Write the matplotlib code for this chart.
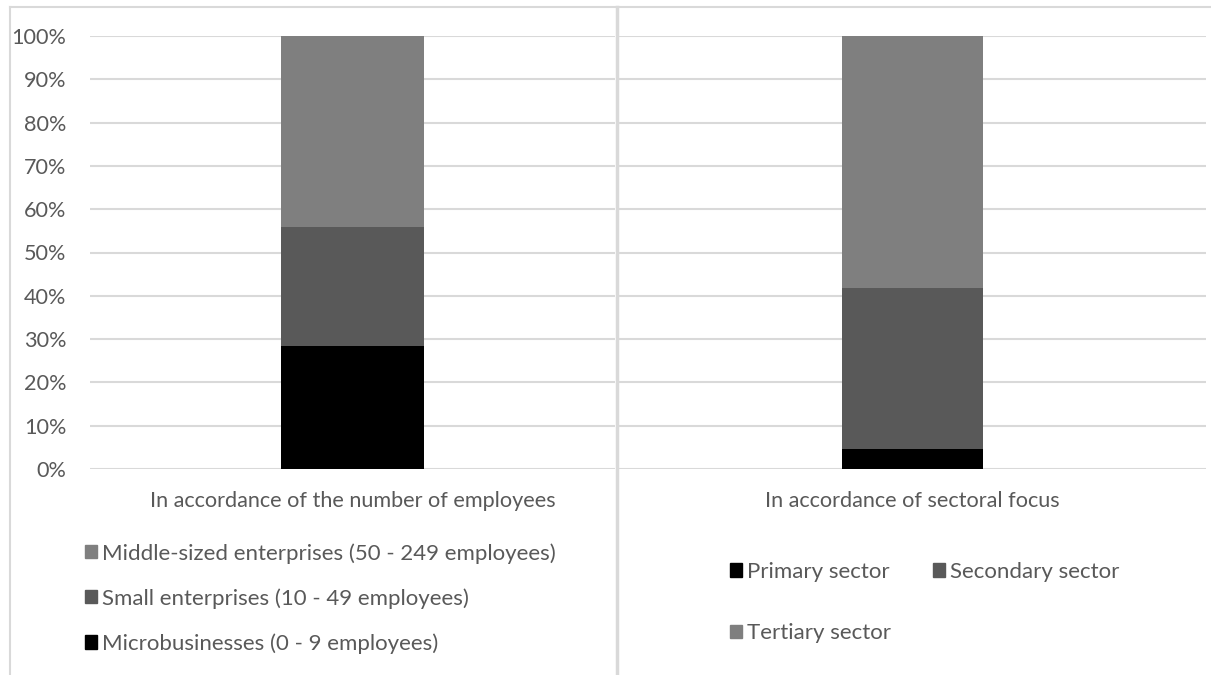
import matplotlib
matplotlib.use("Agg")
import matplotlib.pyplot as plt
from matplotlib.lines import Line2D
from matplotlib.patches import Patch

plt.rcParams['font.family'] = ['Lato', 'DejaVu Sans']

# data (shares in %)
size_cat = ['In accordance of the number of employees']
size_labels = ['Microbusinesses (0 - 9 employees)',
               'Small enterprises (10 - 49 employees)',
               'Middle-sized enterprises (50 - 249 employees)']
size_vals = [28.5, 27.5, 44.0]

sector_cat = ['In accordance of sectoral focus']
sector_labels = ['Primary sector', 'Secondary sector', 'Tertiary sector']
sector_vals = [4.7, 37.2, 58.1]

colors = ['#000000', '#595959', '#7f7f7f']
txt = '#595959'
grid = '#d9d9d9'
fs = 15.6
fs_leg = 16

W, H = 1211, 675
fig = plt.figure(figsize=(W/100, H/100), dpi=100)


def box(x0, x1, y_top, y_bot):
    return [x0/W, 1 - y_bot/H, (x1 - x0)/W, (y_bot - y_top)/H]


ax1 = fig.add_axes(box(90, 615, 36, 469))
ax2 = fig.add_axes(box(619, 1206, 36, 469))

def stack(ax, cat, vals, width):
    bottom = 0
    bars = []
    for v, c in zip(vals, colors):
        b = ax.bar(cat, [v], bottom=bottom, color=c, width=width, zorder=3)
        bars.append(b)
        bottom += v
    ax.set_xlim(-0.5, 0.5)
    ax.set_ylim(0, 100)
    ax.set_yticks(range(0, 101, 10))
    ax.yaxis.grid(True, color=grid, lw=1.5, zorder=0)
    for s in ax.spines.values():
        s.set_visible(False)
    ax.tick_params(length=0, labelsize=fs, colors=txt)
    ax.tick_params(axis='x', pad=16)
    return bars

b1 = stack(ax1, size_cat, size_vals, 0.272)
b2 = stack(ax2, sector_cat, sector_vals, 0.24)

ax1.set_yticklabels([f'{t}%' for t in range(0, 101, 10)])
ax1.tick_params(axis='y', pad=17)
ax2.set_yticklabels([])

# legends
leg_kw = dict(frameon=False, fontsize=fs_leg, labelcolor=txt, loc='upper left',
              handlelength=0.55, handleheight=0.55, handletextpad=0.2,
              borderaxespad=0, borderpad=0)

h1 = [Patch(color=colors[i]) for i in (2, 1, 0)]
l1 = [size_labels[i] for i in (2, 1, 0)]
fig.legend(h1, l1, bbox_to_anchor=(85/W, 1 - 543/H), labelspacing=1.1,
           **leg_kw)

h2 = [Patch(color=colors[i]) for i in (0, 2, 1)]
l2 = [sector_labels[i] for i in (0, 2, 1)]
fig.legend(h2, l2, bbox_to_anchor=(730/W, 1 - 562/H), ncol=2,
           labelspacing=1.86, columnspacing=1.9, **leg_kw)

# chart frames
def frame_line(xs, ys, lw):
    fig.add_artist(Line2D([x/W for x in xs], [1 - y/H for y in ys],
                          color=grid, lw=lw))

frame_line([10, W], [7, 7], 1.5)
frame_line([10, 10], [7, H], 1.5)
frame_line([617, 617], [7, H], 2.5)

fig.savefig('out.png', dpi=100)
